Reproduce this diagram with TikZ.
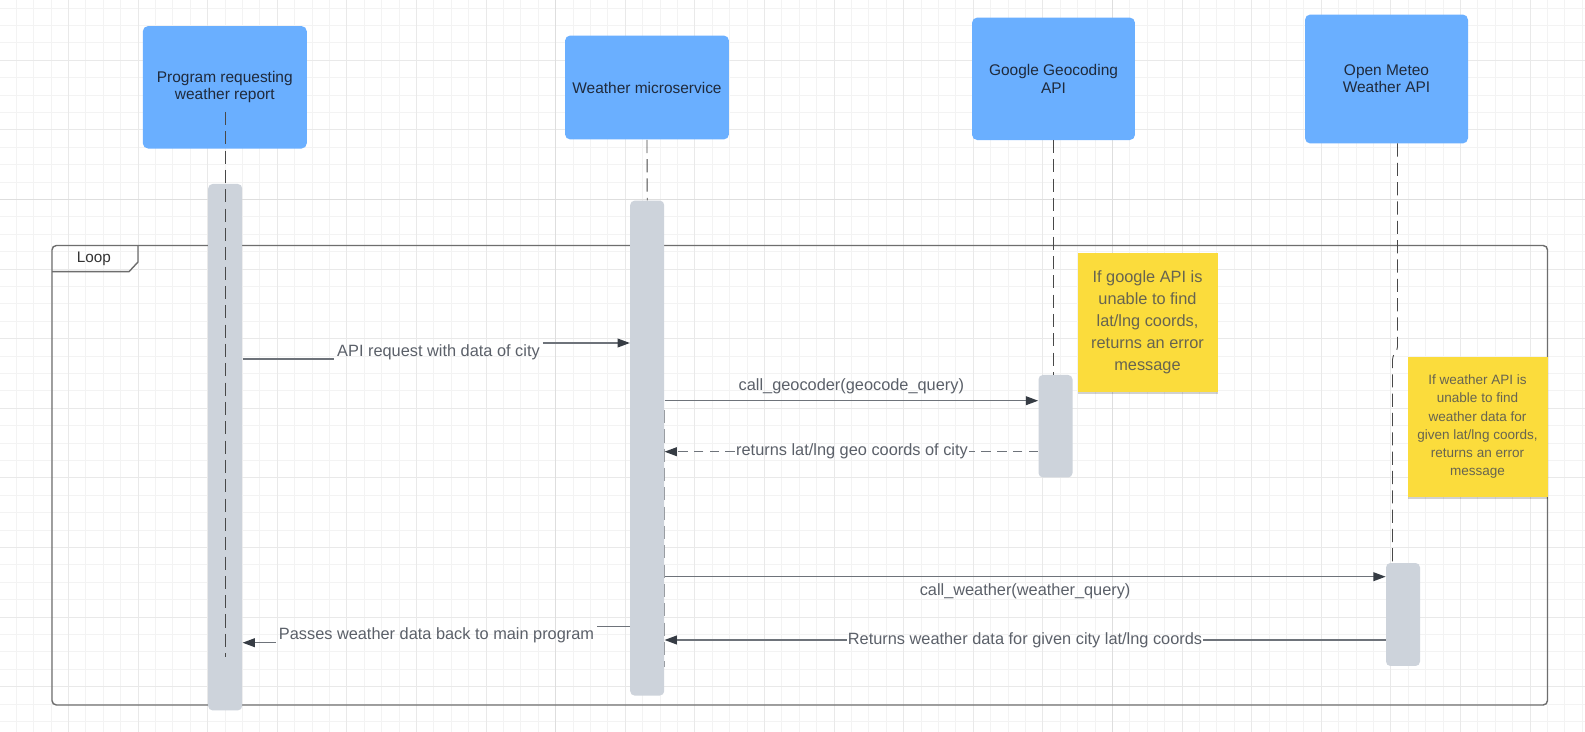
\documentclass[tikz,border=0pt]{standalone}
\usepackage{fontspec}
\setmainfont{Liberation Sans}
\usetikzlibrary{arrows.meta,shadows}

\definecolor{boxblue}{HTML}{6AAFFF}
\definecolor{boxtext}{HTML}{1F2A3C}
\definecolor{barfill}{HTML}{CDD3DB}
\definecolor{noteyellow}{HTML}{FBDC3C}
\definecolor{notetext}{HTML}{676450}
\definecolor{msgtext}{HTML}{5B6069}
\definecolor{msgline}{HTML}{6E737A}
\definecolor{tipcol}{HTML}{363C44}
\definecolor{lifecol}{HTML}{484848}
\definecolor{framecol}{HTML}{6E6E6E}
\definecolor{gridminor}{HTML}{F3F3F3}
\definecolor{gridmajor}{HTML}{E9E9E9}
\definecolor{gridbold}{HTML}{DEDEDE}

\begin{document}
\begin{tikzpicture}[
  x=0.02cm, y=-0.02cm,
  actor/.style={fill=boxblue, rounded corners=3pt, minimum width=3.28cm,
    text=boxtext, align=center, font=\fontsize{8.8}{9.8}\selectfont},
  activation/.style={fill=barfill, rounded corners=2.5pt, minimum width=0.68cm, inner sep=0pt},
  lifeline/.style={draw=lifecol, line width=0.5pt, dash pattern=on 7.5pt off 3.5pt},
  msg/.style={draw=msgline, line width=0.75pt},
  tip/.style={-{Triangle[length=7pt,width=5pt,color=tipcol]}},
  ret/.style={msg, dash pattern=on 5.5pt off 3.5pt},
  lbl/.style={text=msgtext, font=\fontsize{9.3}{11}\selectfont, inner sep=1.5pt},
  sticky/.style={fill=noteyellow, text=notetext, align=center, minimum width=2.8cm,
    minimum height=2.78cm, inner sep=0pt,
    drop shadow={shadow xshift=0pt, shadow yshift=-1.5pt, opacity=0.18, fill=black}},
]
\useasboundingbox[fill=white] (0,0) rectangle (1585,732);

\foreach \i in {0,...,91} \draw[gridminor, line width=0.5pt] ({-1.2+17.4*\i},0) -- ++(0,732);
\foreach \i in {0,...,42} \draw[gridminor, line width=0.5pt] (0,{8.1+17.4*\i}) -- ++(1585,0);
\foreach \i in {1,...,22} \draw[gridmajor, line width=0.55pt] ({-1.2+69.6*\i},0) -- ++(0,732);
\foreach \i in {1,...,10} \draw[gridmajor, line width=0.55pt] (0,{-9.3+69.6*\i}) -- ++(1585,0);
\foreach \i in {8,16} \draw[gridbold, line width=0.55pt] ({-1.2+69.6*\i},0) -- ++(0,732);
\draw[gridbold, line width=0.55pt] (0,199.5) -- ++(1585,0);

\draw[framecol, line width=0.8pt, rounded corners=2.5pt] (52,245.5) rectangle (1547.5,705);
\draw[framecol, line width=0.8pt] (138,245.5) -- (138,262) -- (129,271.7) -- (52,271.7);
\node[font=\fontsize{8.7}{10}\selectfont, text=black!80] (looplbl) at (94,259) {Loop};

\node[actor, minimum height=2.45cm] (prog) at (224.8,87.3) {Program requesting\\weather report};
\node[actor, minimum height=2.08cm] (svc) at (647,87.5) {Weather microservice};
\node[actor, minimum height=2.45cm, minimum width=3.26cm] (geo) at (1053.5,78.8) {Google Geocoding\\API};
\node[actor, minimum height=2.58cm, minimum width=3.26cm] (meteo) at (1386.5,79) {Open Meteo\\Weather API};

\node[activation, minimum height=10.53cm] (pbar) at (225.2,447.2) {};
\node[activation, minimum height=9.9cm] (wbar) at (647.2,448.1) {};
\node[activation, minimum height=2.05cm] (gbar) at (1055.5,426.2) {};
\node[activation, minimum height=2.06cm] (mbar) at (1403,614.5) {};

\coordinate (pend) at (225.5,657);
\draw[lifeline] (225.5,112) -- (pend);
\draw[lifeline] (svc.south) -- (wbar.north);
\draw[lifeline, draw=msgline!70] (664.5,410) -- (664.5,667);
\draw[lifeline] (1053,140) -- (gbar.north west -| 1053,0);
\draw[lifeline, rounded corners=2pt] (1397.5,143.5) -- (1397.5,350) -- (1392.5,356) -- (mbar.north west -| 1392.5,0);

\node[lbl] (m1) at (438.5,352.7) {API request with data of city};
\draw[msg] (pbar.east |- 0,359) -- (m1.west |- 0,359);
\draw[msg, tip] (m1.east |- 0,343) -- (wbar.west |- 0,343);

\draw[msg, tip] (wbar.east |- 0,400.7) -- node[lbl, above=2pt] (m2) {call\_geocoder(geocode\_query)} (gbar.west |- 0,400.7);

\node[lbl, inner sep=0.5pt] (m3) at (852,451.7) {returns lat/lng geo coords of city};
\draw[ret] (gbar.west |- 0,451.7) -- (m3.east);
\draw[ret, tip] (m3.west) -- (wbar.east |- 0,451.7);

\draw[msg, tip] (wbar.east |- 0,576.7) -- node[lbl, below=2pt] (m4) {call\_weather(weather\_query)} (mbar.west |- 0,576.7);

\node[lbl, inner sep=0.5pt] (m5) at (1025,640) {Returns weather data for given city lat/lng coords};
\draw[msg] (mbar.west |- 0,640) -- (m5.east);
\draw[msg, tip] (m5.west) -- (wbar.east |- 0,640);

\node[lbl] (m6) at (436.5,635) {Passes weather data back to main program};
\draw[msg] (wbar.west |- 0,626.7) -- (m6.east |- 0,626.7);
\draw[msg, tip] (m6.west |- 0,642.7) -- (pbar.east |- 0,642.7);

\node[sticky, font=\fontsize{9.3}{12.6}\selectfont] (note1) at (1147.5,322.2)
  {If google API is\\unable to find\\lat/lng coords,\\returns an error\\message};
\node[sticky, minimum height=2.79cm, font=\fontsize{7.7}{10.4}\selectfont] (note2) at (1477.5,426.8)
  {If weather API is\\unable to find\\weather data for\\given lat/lng coords,\\returns an error\\message};
\end{tikzpicture}
\end{document}
